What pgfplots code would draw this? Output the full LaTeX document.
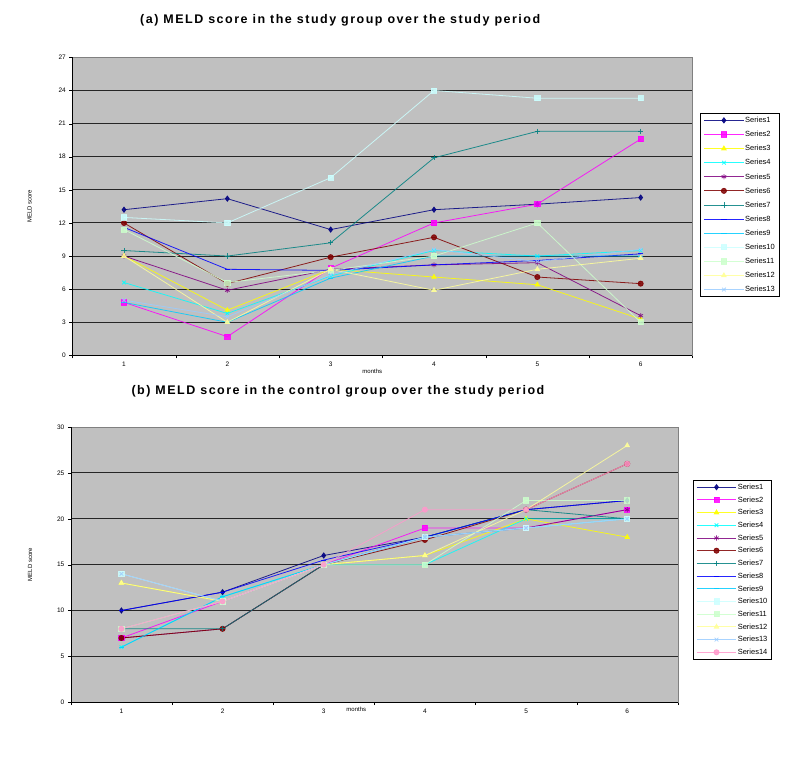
\documentclass[border=0pt]{standalone}
\usepackage{fontspec}
\setmainfont{Liberation Sans}
\usepackage{pgfplots}
\pgfplotsset{compat=1.18}
\definecolor{plotgrey}{HTML}{C0C0C0}
\definecolor{sA}{HTML}{000080}
\definecolor{sB}{HTML}{FF00FF}
\definecolor{sC}{HTML}{FFFF00}
\definecolor{sD}{HTML}{00FFFF}
\definecolor{sE}{HTML}{800080}
\definecolor{sF}{HTML}{800000}
\definecolor{sG}{HTML}{008080}
\definecolor{sH}{HTML}{0000FF}
\definecolor{sI}{HTML}{00CCFF}
\definecolor{sJ}{HTML}{CCFFFF}
\definecolor{sK}{HTML}{CCFFCC}
\definecolor{sL}{HTML}{FFFF99}
\definecolor{sM}{HTML}{99CCFF}
\definecolor{sN}{HTML}{FF99CC}
\pgfplotsset{
  meld/.style={
    scale only axis,
    axis background/.style={fill=plotgrey},
    axis line style={draw=gray},
    xmin=0.5, xmax=6.5, ymin=0,
    xtick={1,2,3,4,5,6},
    major x tick style={draw=none},
    minor xtick={0.5,1.5,2.5,3.5,4.5,5.5,6.5},
    minor x tick style={black},
    minor tick length=3pt,
    major tick length=3pt,
    tick align=outside,
    xtick pos=bottom, ytick pos=left,
    ymajorgrids,
    major grid style={black!85, line width=1pt},
    y tick style={black},
    tick label style={font=\fontsize{6.5}{7}\selectfont},
    /pgf/number format/assume math mode=true,
    ylabel={MELD score},
    ylabel style={font=\fontsize{6}{7}\selectfont, anchor=south},
    xlabel={months},
    xlabel style={font=\fontsize{6}{7}\selectfont, yshift=4pt},
    title style={font=\bfseries\fontsize{12.5}{14}\selectfont\addfontfeature{LetterSpace=12}, anchor=south},
    legend cell align=left,
    legend image code/.code={\draw[mark repeat=2,mark phase=2] plot coordinates {(0cm,0cm) (0.7cm,0cm) (1.4cm,0cm)};},
    every axis plot/.append style={line width=0.8pt, mark size=2.6pt, opacity=0.85},
    after end axis/.code={\draw[black, line width=0.6pt] (rel axis cs:0,1) -- (rel axis cs:0,0) -- (rel axis cs:1,0);},
  },
  s1/.style={color=sA, mark=diamond*},
  s2/.style={color=sB, mark=square*},
  s3/.style={color=sC, mark=triangle*},
  s4/.style={color=sD, mark=x},
  s5/.style={color=sE, mark=asterisk},
  s6/.style={color=sF, mark=*},
  s7/.style={color=sG, mark=+},
  s8/.style={color=sH, mark=-},
  s9/.style={color=sI, mark=-},
  s10/.style={color=sJ, mark=square*},
  s11/.style={color=sK, mark=square*},
  s12/.style={color=sL, mark=triangle*},
  s13/.style={color=sM, mark=x},
  s14/.style={color=sN, mark=*},
}
\begin{document}
\begin{tikzpicture}[x=1pt,y=1pt]
\useasboundingbox (0,0) rectangle (785,-767);
% ---------------- (a) ----------------
\begin{axis}[meld,
  at={(70,-52)}, anchor=north west,
  width=620pt, height=298pt,
  ymax=27, ytick={0,3,...,27},
  title={(a) MELD score in the study group over the study period},
  title style={at={(0.432,1)}, yshift=22pt},
  ylabel style={at={(axis description cs:-0.06,0.5)}},
  xlabel style={xshift=-10pt},
  legend style={at={(1.013,0.812)}, anchor=north west, draw=black, fill=white,
    font=\fontsize{7.5}{8}\selectfont, row sep=4.6pt,
    nodes={inner sep=1pt, text height=6pt, text depth=1.5pt}},
]
\addplot[s1] coordinates {(1,13.2)(2,14.2)(3,11.4)(4,13.2)(5,13.7)(6,14.3)};
\addlegendentry{Series1}
\addplot[s2] coordinates {(1,4.8)(2,1.7)(3,7.9)(4,12)(5,13.7)(6,19.6)};
\addlegendentry{Series2}
\addplot[s3] coordinates {(1,9)(2,4.1)(3,7.8)(4,7.1)(5,6.4)(6,3.3)};
\addlegendentry{Series3}
\addplot[s4] coordinates {(1,6.6)(2,3.8)(3,7.2)(4,9.5)(5,9.0)(6,9.5)};
\addlegendentry{Series4}
\addplot[s5] coordinates {(1,9)(2,5.9)(3,7.8)(4,8.2)(5,8.4)(6,3.6)};
\addlegendentry{Series5}
\addplot[s6] coordinates {(1,12)(2,6.5)(3,8.9)(4,10.7)(5,7.1)(6,6.5)};
\addlegendentry{Series6}
\addplot[s7] coordinates {(1,9.5)(2,9)(3,10.2)(4,17.9)(5,20.3)(6,20.3)};
\addlegendentry{Series7}
\addplot[s8] coordinates {(1,11.6)(2,7.8)(3,7.7)(4,8.2)(5,8.6)(6,9.2)};
\addlegendentry{Series8}
\addplot[s9] coordinates {(1,4.8)(2,3.0)(3,7.0)(4,9.0)(5,9.0)(6,9.0)};
\addlegendentry{Series9}
\addplot[s10] coordinates {(1,12.5)(2,12)(3,16.1)(4,24)(5,23.3)(6,23.3)};
\addlegendentry{Series10}
\addplot[s11] coordinates {(1,11.4)(2,6.6)(3,7.7)(4,9)(5,12)(6,3.0)};
\addlegendentry{Series11}
\addplot[s12] coordinates {(1,9)(2,3.0)(3,7.8)(4,5.9)(5,7.8)(6,8.8)};
\addlegendentry{Series12}
\addplot[s13] coordinates {(1,5.0)(2,3.5)(3,7.3)(4,9.6)(5,8.5)(6,9.6)};
\addlegendentry{Series13}
\end{axis}
% ---------------- (b) ----------------
\begin{axis}[meld,
  at={(70,-466)}, anchor=north west,
  width=607pt, height=275pt,
  ymax=30, ytick={0,5,...,30},
  title={(b) MELD score in the control group over the study period},
  title style={at={(0.44,1)}, yshift=20pt},
  ylabel style={at={(axis description cs:-0.058,0.5)}},
  xlabel style={yshift=9pt, xshift=-18pt},
  legend style={at={(1.025,0.807)}, anchor=north west, draw=black, fill=white,
    font=\fontsize{7.5}{8}\selectfont, row sep=3.2pt,
    nodes={inner sep=1pt, text height=6pt, text depth=1.5pt}},
]
\addplot[s1] coordinates {(1,10)(2,12)(3,16)(4,18)(5,21)(6,22)};
\addlegendentry{Series1}
\addplot[s2] coordinates {(1,7)(2,11)(3,15)(4,19)(5,19)(6,21)};
\addlegendentry{Series2}
\addplot[s3] coordinates {(1,13)(2,11)(3,15)(4,16)(5,20)(6,18)};
\addlegendentry{Series3}
\addplot[s4] coordinates {(1,6)(2,11.5)(3,15)(4,15)(5,20)(6,20)};
\addlegendentry{Series4}
\addplot[s5] coordinates {(1,7)(2,8)(3,15)(4,18)(5,19)(6,21)};
\addlegendentry{Series5}
\addplot[s6] coordinates {(1,7)(2,8)(3,15)(4,17.7)(5,21)(6,26)};
\addlegendentry{Series6}
\addplot[s7] coordinates {(1,8)(2,8)(3,15)(4,18)(5,21)(6,20)};
\addlegendentry{Series7}
\addplot[s8] coordinates {(1,10)(2,12)(3,15.5)(4,18)(5,21)(6,22)};
\addlegendentry{Series8}
\addplot[s9] coordinates {(1,6)(2,11.5)(3,15)(4,18)(5,19)(6,20)};
\addlegendentry{Series9}
\addplot[s10] coordinates {(1,14)(2,11)(3,15)(4,18)(5,19)(6,20)};
\addlegendentry{Series10}
\addplot[s11] coordinates {(1,8)(2,11)(3,15)(4,15)(5,22)(6,22)};
\addlegendentry{Series11}
\addplot[s12] coordinates {(1,13)(2,11)(3,15)(4,16)(5,21)(6,28)};
\addlegendentry{Series12}
\addplot[s13] coordinates {(1,14)(2,11)(3,15)(4,18)(5,19)(6,20)};
\addlegendentry{Series13}
\addplot[s14] coordinates {(1,8)(2,11)(3,15)(4,21)(5,21)(6,26)};
\addlegendentry{Series14}
\end{axis}
\end{tikzpicture}
\end{document}
